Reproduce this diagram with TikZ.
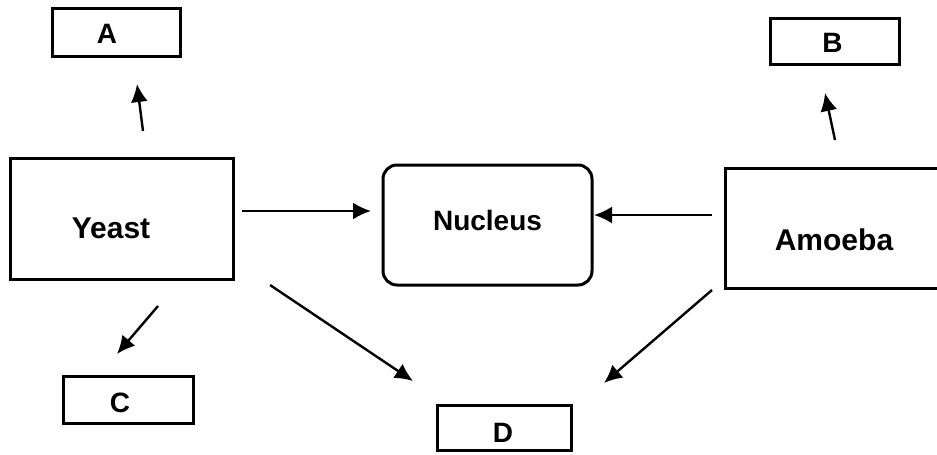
\documentclass[tikz,border=0pt]{standalone}
\usepackage{fontspec}
\setmainfont{Liberation Sans}
\usetikzlibrary{arrows.meta}
\begin{document}
\begin{tikzpicture}[x=0.5pt,y=-0.5pt,
  box/.style={draw,line width=1.5pt,inner sep=0pt},
  lbl/.style={font=\bfseries\fontsize{14}{16}\selectfont},
  big/.style={font=\bfseries\fontsize{15}{17}\selectfont},
  conn/.style={line width=1.2pt,-{Latex[length=9pt,width=8.5pt]}}]
\clip (0,0) rectangle (937,455);
% boxes
\node[box,minimum width=64pt,minimum height=24pt,label={[lbl,shift={(-4.5pt,-1pt)}]center:A}] (A) at (116,32) {};
\node[box,minimum width=64.5pt,minimum height=23pt,label={[lbl,shift={(-1pt,-1pt)}]center:B}] (B) at (834.5,41) {};
\node[box,minimum width=65pt,minimum height=23.5pt,label={[lbl,shift={(-4pt,-1.75pt)}]center:C}] (C) at (128,399.5) {};
\node[box,minimum width=67pt,minimum height=22.5pt,label={[lbl,shift={(-0.5pt,-2.75pt)}]center:D}] (D) at (504,427.5) {};
\node[box,minimum width=111.5pt,minimum height=60.5pt,label={[big,shift={(-5.25pt,-4.5pt)}]center:Yeast}] (Y) at (121.5,219) {};
\node[box,rounded corners=7pt,minimum width=104.5pt,minimum height=60pt,label={[lbl,shift={(0pt,2.5pt)}]center:Nucleus}] (N) at (487.5,225) {};
\node[box,minimum width=117.5pt,minimum height=60pt,label={[big,shift={(-4.25pt,-6pt)}]center:Amoeba}] (M) at (842.5,228) {};
% connector ends
\coordinate (yA1) at (143,131); \coordinate (yA2) at (137,84);
\coordinate (mB1) at (835,140); \coordinate (mB2) at (825,93);
\coordinate (yC1) at (158,306); \coordinate (yC2) at (117,354);
\coordinate (yN1) at (242,211); \coordinate (yN2) at (371,211);
\coordinate (mN1) at (712,215); \coordinate (mN2) at (594,215);
\coordinate (yD1) at (270,285); \coordinate (yD2) at (413,381);
\coordinate (mD1) at (712,290); \coordinate (mD2) at (604,383);
\draw[conn] (yA1) -- (yA2);
\draw[conn] (mB1) -- (mB2);
\draw[conn] (yC1) -- (yC2);
\draw[conn] (yN1) -- (yN2);
\draw[conn] (mN1) -- (mN2);
\draw[conn] (yD1) -- (yD2);
\draw[conn] (mD1) -- (mD2);
\end{tikzpicture}
\end{document}
